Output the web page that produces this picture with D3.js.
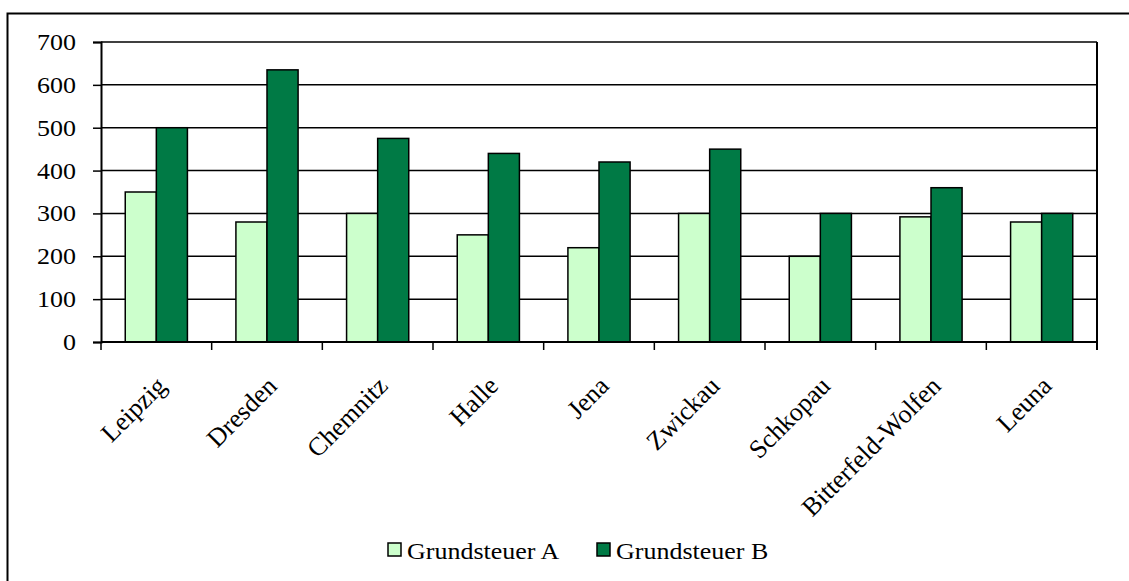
<!DOCTYPE html>
<html>
<head>
<meta charset="utf-8">
<script src="https://cdn.jsdelivr.net/npm/d3@7"></script>
<style>
  body { margin: 0; background: white; }
  text { font-family: "Liberation Serif", "Times New Roman", serif; fill: black; }
</style>
</head>
<body>
<div id="chart"></div>
<script>
// data
var cities = ["Leipzig", "Dresden", "Chemnitz", "Halle", "Jena", "Zwickau", "Schkopau", "Bitterfeld-Wolfen", "Leuna"];
var seriesNames = ["Grundsteuer A", "Grundsteuer B"];
var grundsteuerA = [350, 280, 300, 250, 220, 300, 200, 292, 280];
var grundsteuerB = [500, 635, 475, 440, 420, 450, 300, 360, 300];
var yTicks = [0, 100, 200, 300, 400, 500, 600, 700];
var colors = ["#CCFFCC", "#007A45"];

var W = 1129, H = 581;
var margin = {top: 42, right: 32, bottom: 239, left: 101};
var width = W - margin.left - margin.right,
    height = H - margin.top - margin.bottom;
var sx = 1.13; // text in the picture is a bit wider than normal

var rows = cities.map(function(c, i) {
  return {city: c, values: [grundsteuerA[i], grundsteuerB[i]]};
});

var svg = d3.select("#chart").append("svg")
  .attr("width", W).attr("height", H);

// outer frame (only top and left visible)
svg.append("rect")
  .attr("x", 7.5).attr("y", 13.5)
  .attr("width", W + 20).attr("height", H + 20)
  .attr("fill", "white")
  .attr("stroke", "black").attr("stroke-width", 2);

var g = svg.append("g")
  .attr("transform", "translate(" + margin.left + "," + margin.top + ")");

var x0 = d3.scaleBand().domain(cities).range([0, width]).padding(0);
var x1 = d3.scaleBand().domain([0, 1]).range([0, x0.bandwidth()])
  .paddingInner(0).paddingOuter(0.78);
var y = d3.scaleLinear().domain([0, 700]).range([height, 0]);

// gridlines
g.selectAll(".grid").data(yTicks).enter().append("line")
  .attr("class", "grid")
  .attr("x1", 0).attr("x2", width)
  .attr("y1", function(d) { return y(d); })
  .attr("y2", function(d) { return y(d); })
  .attr("stroke", "black").attr("stroke-width", 1.5);

// right border of plot
g.append("line")
  .attr("x1", width).attr("x2", width)
  .attr("y1", 0).attr("y2", height + 8)
  .attr("stroke", "black").attr("stroke-width", 2);

// bars
var groups = g.selectAll(".grp").data(rows).enter().append("g")
  .attr("class", "grp")
  .attr("transform", function(d) { return "translate(" + x0(d.city) + ",0)"; });

groups.selectAll("rect").data(function(d) { return d.values; }).enter().append("rect")
  .attr("x", function(d, i) { return x1(i); })
  .attr("y", function(d) { return y(d); })
  .attr("width", x1.bandwidth())
  .attr("height", function(d) { return height - y(d); })
  .attr("fill", function(d, i) { return colors[i]; })
  .attr("stroke", "black").attr("stroke-width", 1.5);

// y axis
var yAxis = g.append("g")
  .call(d3.axisLeft(y).tickValues(yTicks).tickSize(8).tickPadding(0).tickFormat(d3.format("d")));
yAxis.select(".domain").attr("stroke", "black").attr("stroke-width", 2);
yAxis.selectAll(".tick line").attr("stroke", "black").attr("stroke-width", 1.5);
yAxis.selectAll(".tick text").remove();
g.selectAll(".ylab").data(yTicks).enter().append("text")
  .attr("class", "ylab")
  .attr("text-anchor", "end")
  .attr("font-size", 23)
  .attr("dy", "0.35em")
  .attr("transform", function(d) { return "translate(-25," + y(d) + ") scale(" + sx + ",1)"; })
  .text(function(d) { return d; });

// x axis: tick marks at category boundaries
var bounds = cities.map(function(c) { return x0(c); }).concat([width]);
g.append("line")
  .attr("x1", 0).attr("x2", width)
  .attr("y1", height).attr("y2", height)
  .attr("stroke", "black").attr("stroke-width", 2);
g.selectAll(".xtick").data(bounds).enter().append("line")
  .attr("class", "xtick")
  .attr("x1", function(d) { return d; }).attr("x2", function(d) { return d; })
  .attr("y1", height).attr("y2", height + 8)
  .attr("stroke", "black").attr("stroke-width", 1.5);

g.selectAll(".xlab").data(cities).enter().append("text")
  .attr("class", "xlab")
  .attr("text-anchor", "end")
  .attr("font-size", 26)
  .attr("dy", "0.35em")
  .attr("transform", function(d) {
    var cx = x0(d) + x0.bandwidth() / 2 + 5;
    return "translate(" + cx + "," + (height + 39) + ") rotate(-45)";
  })
  .text(function(d) { return d; });

// legend
var legendX = [388, 597];
var legend = svg.selectAll(".leg").data(seriesNames).enter().append("g")
  .attr("class", "leg")
  .attr("transform", function(d, i) { return "translate(" + legendX[i] + ",543)"; });
legend.append("rect")
  .attr("width", 13).attr("height", 13)
  .attr("fill", function(d, i) { return colors[i]; })
  .attr("stroke", "black").attr("stroke-width", 1.5);
legend.append("text")
  .attr("font-size", 23)
  .attr("transform", "translate(19,16) scale(" + sx + ",1)")
  .text(function(d) { return d; });
</script>
</body>
</html>
